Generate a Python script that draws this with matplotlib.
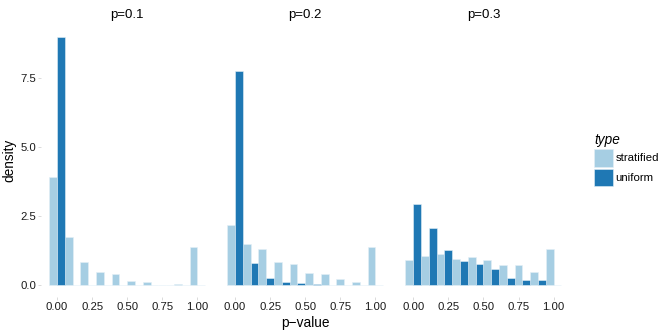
import numpy as np
import matplotlib
matplotlib.use("Agg")
import matplotlib.pyplot as plt
from matplotlib.patches import Patch

plt.rcParams['font.family'] = ['Liberation Sans', 'DejaVu Sans']

# data
panels = ["p=0.1", "p=0.2", "p=0.3"]
types = ["stratified", "uniform"]
bin_centers = np.linspace(0, 1, 10)
stratified = [
    [3.91, 1.73, 0.83, 0.47, 0.41, 0.16, 0.12, 0.02, 0.03, 1.36],
    [2.16, 1.49, 1.30, 0.83, 0.76, 0.43, 0.40, 0.22, 0.11, 1.37],
    [0.90, 1.05, 1.13, 0.95, 1.00, 0.91, 0.72, 0.71, 0.47, 1.30],
]
uniform = [
    [8.98, 0.0, 0.0, 0.0, 0.0, 0.0, 0.0, 0.0, 0.0, 0.01],
    [7.73, 0.81, 0.24, 0.12, 0.07, 0.04, 0.02, 0.01, 0.005, 0.01],
    [2.93, 2.06, 1.26, 0.87, 0.76, 0.59, 0.26, 0.19, 0.17, 0.02],
]
x_ticks = [0.0, 0.25, 0.5, 0.75, 1.0]
x_ticklabels = ["0.00", "0.25", "0.50", "0.75", "1.00"]
y_ticks = [0.0, 2.5, 5.0, 7.5]
y_ticklabels = ["0.0", "2.5", "5.0", "7.5"]

colors = {"stratified": "#A6CEE3", "uniform": "#1F78B4"}

W, H = 664, 332
fig = plt.figure(figsize=(W / 100, H / 100), dpi=100)

binw = 1 / 9
lefts_px = [41.4, 219.5, 397.7]
pw = 171.5
top_px, bot_px = 24.2, 297.0

for i, name in enumerate(panels):
    ax = fig.add_axes([lefts_px[i] / W, 1 - bot_px / H, pw / W, (bot_px - top_px) / H])
    ax.bar(bin_centers - binw / 4, stratified[i], width=binw / 2,
           color=colors["stratified"], edgecolor="#E4F0F7", linewidth=0.4)
    ax.bar(bin_centers + binw / 4, uniform[i], width=binw / 2,
           color=colors["uniform"], edgecolor="#E4F0F7", linewidth=0.4)
    ax.set_xlim(-0.1111, 1.1111)
    ax.set_ylim(-0.43, 9.43)
    for s in ax.spines.values():
        s.set_visible(False)
    ax.set_xticks(x_ticks)
    ax.set_xticklabels(x_ticklabels)
    ax.tick_params(axis='both', length=2, width=0.5, color="#CCCCCC",
                   labelsize=8.2, labelcolor="#1a1a1a", pad=1.5)
    ax.tick_params(axis='x', pad=1.8)
    if i == 0:
        ax.set_yticks(y_ticks)
        ax.set_yticklabels(y_ticklabels)
        ax.set_ylabel("density", fontsize=9.8, labelpad=3)
    else:
        ax.set_yticks([])
    if i == 1:
        ax.set_xlabel("p\u2212value", fontsize=9.8, labelpad=2.5)
    ax.set_title(name, fontsize=9.5, pad=4.5)
    ax.set_facecolor("white")

handles = [Patch(facecolor=colors[t], edgecolor="#E4F0F7", linewidth=0.4) for t in types]
leg = fig.legend(handles, types, loc="upper left", bbox_to_anchor=(586 / W, 1 - 125 / H),
                 frameon=False, title="type", fontsize=8.2, handlelength=1.63, handleheight=2.0,
                 handletextpad=0.27, labelspacing=0.18, borderpad=0.2)
leg.get_title().set_fontstyle("italic")
leg.get_title().set_fontsize(9.8)
leg._legend_box.align = "left"

fig.savefig("out.png", dpi=100, facecolor="white")
